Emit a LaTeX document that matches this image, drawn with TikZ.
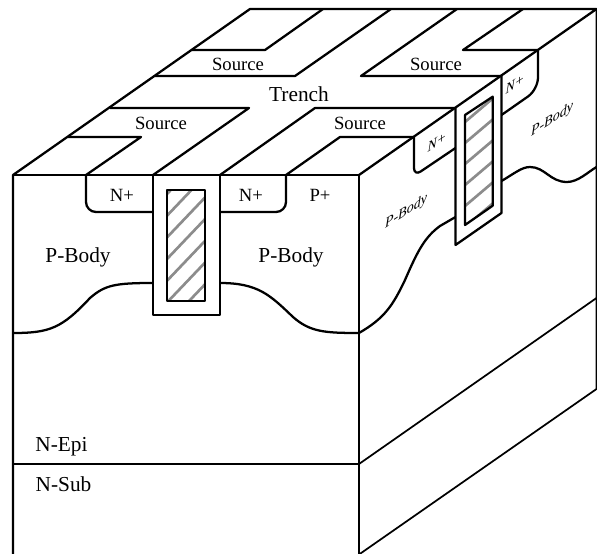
\documentclass[tikz,border=0pt]{standalone}
\usepackage{fontspec}
\setmainfont{Liberation Serif}
\tikzset{
  edge/.style={draw=black,line width=1.7pt,line join=round},
  thinedge/.style={draw=black,line width=1.3pt,line join=round},
  hatchline/.style={draw=black!45,line width=2pt},
  toplabel/.style={font=\fontsize{14}{14}\selectfont,inner sep=0pt},
  bodylabel/.style={font=\fontsize{16}{16}\selectfont,inner sep=0pt},
  sidelabel/.style={font=\fontsize{10.5}{10.5}\selectfont\itshape,inner sep=0pt,yslant=0.65},
}
\begin{document}
\begin{tikzpicture}[x=0.75pt,y=-0.75pt]
  \useasboundingbox (0,0) rectangle (597,554);
  \begin{scope}
    \clip (167,190) rectangle (205,301);
    \foreach \c in {194,215.7,237.4,259,280.8,302.5,324.2}
      \draw[hatchline] (167,\c) -- (205,\c-39.9);
  \end{scope}
  \begin{scope}
    \clip (465,115) -- (492.7,96.7) -- (492.7,205.7) -- (465,225) -- cycle;
    \foreach \c in {122,143,164,185,206,227}
      \draw[hatchline] (465,\c) -- (492.7,\c-23.5);
  \end{scope}
  \draw[edge] (13,554) -- (13,175) -- (250,9) -- (596.5,9) -- (359,175);
  \draw[edge] (13,175) -- (359,175) -- (359,554);
  \draw[edge] (13,464) -- (359,464);
  \draw[thinedge] (359,464) -- (596.5,298);
  \draw[thinedge] (359,554.5) -- (596.5,389) -- (596.5,9);
  \draw[edge] (68,137) -- (141,137) -- (86,175);
  \draw[edge] (110,108) -- (249,108) -- (153,175);
  \draw[edge] (192,50) -- (265,50) -- (323,9);
  \draw[edge] (155,76) -- (295,76) -- (391,9);
  \draw[edge] (220,175) -- (315,108) -- (455,108);
  \draw[edge] (286,175) -- (340,137) -- (414,137);
  \draw[edge] (457,9) -- (361,76) -- (501,76);
  \draw[edge] (523,9) -- (463,50) -- (538,50);
  \draw[edge] (153,175) -- (153,315) -- (220,315) -- (220,175);
  \draw[edge] (167,190) rectangle (205,301);
  \draw[edge] (455.5,108) -- (455.5,245) -- (501.5,213) -- (501.5,76);
  \draw[edge] (465,115) -- (492.7,96.7) -- (492.7,205.7) -- (465,225) -- cycle;
  \draw[edge,rounded corners=7.5pt] (86,175) -- (86,212) -- (153,212);
  \draw[edge,rounded corners=7.5pt] (220,212) -- (286,212) -- (286,175);
  \draw[edge,rounded corners=6pt] (414,137) -- (414,176) -- (455.5,148);
  \draw[edge,rounded corners=9pt] (538,50) -- (538,89.5) -- (501.5,115);
  \draw[edge] (13,333) .. controls (50,333) and (62,328) .. (90,298) .. controls (105,285) and (115,283) .. (153,283);
  \draw[edge] (220,283) .. controls (258,283) and (270,295) .. (293,317) .. controls (310,332) and (325,333) .. (359,333);
  \draw[edge] (359,333) .. controls (385,318) and (393,305) .. (405,280) .. controls (418,250) and (425,237) .. (440,226) -- (455.5,217);
  \draw[edge] (501.5,181) .. controls (515,173) and (522,167) .. (530,167) .. controls (545,167) and (550,182) .. (567,182) .. controls (578,182) and (588,172) .. (596.5,167);
  \node[toplabel] (sourceback) at (238,64) {Source};
  \node[toplabel] (sourceright) at (436,64) {Source};
  \node[bodylabel] (trench) at (299,94) {Trench};
  \node[toplabel] (sourceleft) at (161,123) {Source};
  \node[toplabel] (sourcefront) at (360,123) {Source};
  \node[toplabel] (nleft) at (122,195) {N+};
  \node[toplabel] (nright) at (251,195) {N+};
  \node[toplabel] (pplus) at (320,195) {P+};
  \node[bodylabel] (bodyleft) at (78,257) {P-Body};
  \node[bodylabel] (bodyright) at (291,257) {P-Body};
  \node[bodylabel] (epi) at (61.5,447) {N-Epi};
  \node[bodylabel] (sub) at (63.5,484) {N-Sub};
  \node[sidelabel] (nsideone) at (437,142) {N+};
  \node[sidelabel] (nsidetwo) at (515,84) {N+};
  \node[sidelabel] (bodysideone) at (406,212) {P-Body};
  \node[sidelabel] (bodysidetwo) at (552,120) {P-Body};
\end{tikzpicture}
\end{document}
